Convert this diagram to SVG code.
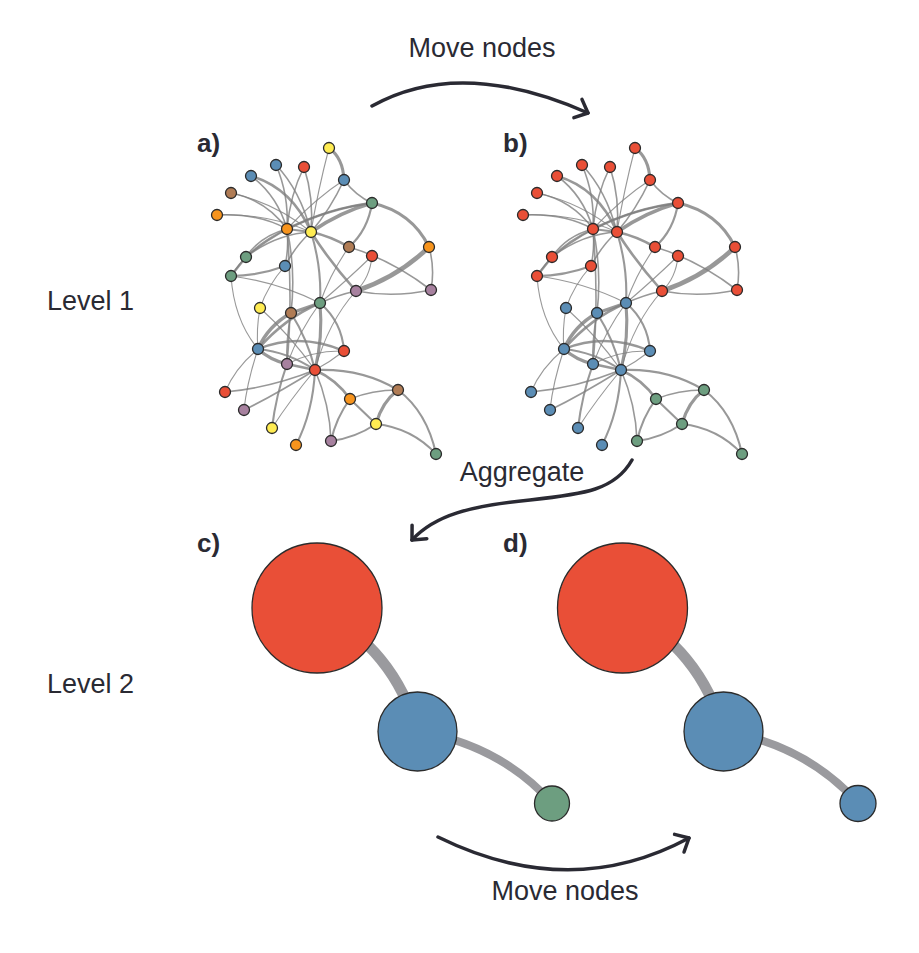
<svg xmlns="http://www.w3.org/2000/svg" xmlns:xlink="http://www.w3.org/1999/xlink" width="919" height="953" viewBox="0 0 919 953">
<style>
.lbl{font-family:"Liberation Sans",Arial,sans-serif;font-size:27px;fill:#2a2a33}
.pl{font-family:"Liberation Sans",Arial,sans-serif;font-size:26px;font-weight:bold;fill:#2a2a33}
.e{fill:none;stroke:#7e7e7e;stroke-opacity:0.8;stroke-linecap:round}
.w1{stroke-width:1.1}.w15{stroke-width:1.6}.w2{stroke-width:2.1}.w25{stroke-width:2.6}.w3{stroke-width:3.1}.w35{stroke-width:3.6}.w45{stroke-width:4.6}
.n circle{stroke:#2b2b2b;stroke-width:1.3}
.R{fill:#E94F37}.B{fill:#5B8DB5}.G{fill:#6D9E80}.O{fill:#F7941D}.Y{fill:#FFEC52}.Br{fill:#B07C55}.P{fill:#A7819F}
.arr{fill:none;stroke:#2a2a33;stroke-width:3.5;stroke-linecap:round;stroke-linejoin:round}
.big{fill:none;stroke:#9a9a9e;stroke-linecap:butt}
</style>
<defs>
<marker id="chev" markerUnits="userSpaceOnUse" markerWidth="30" markerHeight="30" viewBox="-15 -15 30 30" refX="0" refY="0" orient="auto">
<path d="M-11,-10 L0,0 L-11,10" fill="none" stroke="#2a2a33" stroke-width="3.5" stroke-linecap="round" stroke-linejoin="round"/>
</marker>
</defs>
<rect width="919" height="953" fill="#ffffff"/>

<text class="lbl" x="482" y="57" text-anchor="middle">Move nodes</text>
<text class="lbl" x="47" y="310">Level 1</text>
<text class="lbl" x="47" y="693">Level 2</text>
<text class="lbl" x="522" y="481" text-anchor="middle">Aggregate</text>
<text class="lbl" x="565" y="900" text-anchor="middle">Move nodes</text>
<text class="pl" x="197" y="152">a)</text>
<text class="pl" x="503" y="152">b)</text>
<text class="pl" x="197" y="552">c)</text>
<text class="pl" x="503" y="552">d)</text>

<g id="connectors">
<g id="edges-a">
<path class="e w1" d="M329,148 Q318,190 311,232"/>
<path class="e w3" d="M329,148 Q343,158 344,180"/>
<path class="e w15" d="M276,165 Q289,195 287,229"/>
<path class="e w15" d="M276,165 Q300,190 311,232"/>
<path class="e w15" d="M304,167 Q290,195 287,229"/>
<path class="e w15" d="M304,167 Q314,198 311,232"/>
<path class="e w15" d="M251,176 Q277,195 287,229"/>
<path class="e w25" d="M251,176 Q292,188 311,232"/>
<path class="e w15" d="M231,193 Q266,200 287,229"/>
<path class="e w1" d="M231,193 Q276,203 311,232"/>
<path class="e w15" d="M217,215 Q258,213 287,229"/>
<path class="e w1" d="M217,215 Q268,213 311,232"/>
<path class="e w1" d="M344,180 Q316,198 287,229"/>
<path class="e w15" d="M344,180 Q330,210 311,232"/>
<path class="e w15" d="M344,180 Q356,196 372,203"/>
<path class="e w35" d="M372,203 Q340,212 311,232"/>
<path class="e w25" d="M372,203 Q330,208 287,229"/>
<path class="e w3" d="M372,203 Q412,212 429,247"/>
<path class="e w2" d="M372,203 Q368,230 349,247"/>
<path class="e w45" d="M429,247 Q398,277 356,291"/>
<path class="e w15" d="M429,247 Q435,268 431,290"/>
<path class="e w15" d="M356,291 Q393,298 431,290"/>
<path class="e w25" d="M311,232 Q330,262 356,291"/>
<path class="e w25" d="M311,232 Q330,236 349,247"/>
<path class="e w15" d="M349,247 Q392,260 431,290"/>
<path class="e w1" d="M349,247 Q331,272 320,303"/>
<path class="e w1" d="M372,256 Q345,282 320,303"/>
<path class="e w1" d="M372,256 Q370,278 356,291"/>
<path class="e w15" d="M356,291 Q338,295 320,303"/>
<path class="e w1" d="M356,291 Q328,322 315,370"/>
<path class="e w15" d="M246,257 Q260,236 287,229"/>
<path class="e w15" d="M246,257 Q276,234 311,232"/>
<path class="e w15" d="M246,257 Q300,212 372,203"/>
<path class="e w15" d="M231,276 Q250,246 287,229"/>
<path class="e w2" d="M231,276 L246,257"/>
<path class="e w2" d="M231,276 Q258,276 285,266"/>
<path class="e w1" d="M231,276 Q234,320 258,349"/>
<path class="e w1" d="M231,276 Q278,282 320,303"/>
<path class="e w15" d="M285,266 Q289,248 287,229"/>
<path class="e w15" d="M285,266 Q296,245 311,232"/>
<path class="e w1" d="M285,266 Q268,285 260,308"/>
<path class="e w2" d="M311,232 Q322,268 320,303"/>
<path class="e w15" d="M287,229 Q296,270 291,313"/>
<path class="e w2" d="M287,229 L311,232"/>
<path class="e w3" d="M320,303 L291,313"/>
<path class="e w25" d="M320,303 Q285,318 258,349"/>
<path class="e w3" d="M320,303 Q323,337 315,370"/>
<path class="e w2" d="M320,303 Q342,322 344,351"/>
<path class="e w1" d="M320,303 Q300,330 287,364"/>
<path class="e w1" d="M260,308 Q256,330 258,349"/>
<path class="e w1" d="M260,308 Q290,335 315,370"/>
<path class="e w35" d="M291,313 Q268,326 258,349"/>
<path class="e w15" d="M291,313 Q286,340 287,364"/>
<path class="e w2" d="M291,313 Q308,340 315,370"/>
<path class="e w25" d="M258,349 Q300,332 344,351"/>
<path class="e w3" d="M258,349 Q270,360 287,364"/>
<path class="e w2" d="M258,349 Q288,352 315,370"/>
<path class="e w1" d="M258,349 Q235,368 225,392"/>
<path class="e w1" d="M258,349 Q247,382 244,410"/>
<path class="e w1" d="M344,351 Q330,362 315,370"/>
<path class="e w1" d="M344,351 Q314,350 287,364"/>
<path class="e w25" d="M287,364 L315,370"/>
<path class="e w2" d="M287,364 Q276,395 272,428"/>
<path class="e w15" d="M315,370 Q270,388 225,392"/>
<path class="e w15" d="M315,370 Q275,395 244,410"/>
<path class="e w1" d="M315,370 Q290,400 272,428"/>
<path class="e w2" d="M315,370 Q313,412 296,445"/>
<path class="e w15" d="M315,370 Q330,405 331,441"/>
<path class="e w25" d="M315,370 Q337,380 350,399"/>
<path class="e w2" d="M315,370 Q362,368 398,390"/>
<path class="e w15" d="M398,390 Q372,390 350,399"/>
<path class="e w3" d="M398,390 Q382,402 376,424"/>
<path class="e w2" d="M398,390 Q427,412 436,454"/>
<path class="e w2" d="M350,399 L376,424"/>
<path class="e w2" d="M350,399 Q336,418 331,441"/>
<path class="e w2" d="M376,424 Q355,438 331,441"/>
<path class="e w2" d="M376,424 Q412,428 436,454"/>
<path class="e w15" d="M287,229 Q293,300 287,364"/>
</g>
<use xlink:href="#edges-a" href="#edges-a" transform="translate(306,0)"/>
<path class="big" stroke-width="11" d="M317,608 Q395,650 417,731"/>
<path class="big" stroke-width="8" d="M417,731 Q500,745 552,803"/>
<path class="big" stroke-width="11" d="M623,608 Q701,650 723,731"/>
<path class="big" stroke-width="8" d="M723,731 Q806,745 858,803"/>
<path class="arr" d="M372,106 Q460,56.5 588,113" marker-end="url(#chev)"/>
<path class="arr" d="M632,460 C615,490 585,494 530,500 C470,506 435,515 412,540" marker-end="url(#chev)"/>
<path class="arr" d="M438,837 Q570,902 689,838" marker-end="url(#chev)"/>
</g>

<g id="nodes-a" class="n">
<g id="a0"><circle cx="329" cy="148" r="5.5" class="Y"/></g>
<g id="a1"><circle cx="276" cy="165" r="5.5" class="B"/></g>
<g id="a2"><circle cx="304" cy="167" r="5.5" class="R"/></g>
<g id="a3"><circle cx="251" cy="176" r="5.5" class="B"/></g>
<g id="a4"><circle cx="344" cy="180" r="5.5" class="B"/></g>
<g id="a5"><circle cx="231" cy="193" r="5.5" class="Br"/></g>
<g id="a6"><circle cx="372" cy="203" r="5.5" class="G"/></g>
<g id="a7"><circle cx="217" cy="215" r="5.5" class="O"/></g>
<g id="a8"><circle cx="287" cy="229" r="5.5" class="O"/></g>
<g id="a9"><circle cx="311" cy="232" r="5.5" class="Y"/></g>
<g id="a10"><circle cx="349" cy="247" r="5.5" class="Br"/></g>
<g id="a11"><circle cx="429" cy="247" r="5.5" class="O"/></g>
<g id="a12"><circle cx="372" cy="256" r="5.5" class="R"/></g>
<g id="a13"><circle cx="246" cy="257" r="5.5" class="G"/></g>
<g id="a14"><circle cx="285" cy="266" r="5.5" class="B"/></g>
<g id="a15"><circle cx="231" cy="276" r="5.5" class="G"/></g>
<g id="a16"><circle cx="356" cy="291" r="5.5" class="P"/></g>
<g id="a17"><circle cx="431" cy="290" r="5.5" class="P"/></g>
<g id="a18"><circle cx="320" cy="303" r="5.5" class="G"/></g>
<g id="a19"><circle cx="260" cy="308" r="5.5" class="Y"/></g>
<g id="a20"><circle cx="291" cy="313" r="5.5" class="Br"/></g>
<g id="a21"><circle cx="258" cy="349" r="5.5" class="B"/></g>
<g id="a22"><circle cx="344" cy="351" r="5.5" class="R"/></g>
<g id="a23"><circle cx="287" cy="364" r="5.5" class="P"/></g>
<g id="a24"><circle cx="315" cy="370" r="5.5" class="R"/></g>
<g id="a25"><circle cx="225" cy="392" r="5.5" class="R"/></g>
<g id="a26"><circle cx="398" cy="390" r="5.5" class="Br"/></g>
<g id="a27"><circle cx="350" cy="399" r="5.5" class="O"/></g>
<g id="a28"><circle cx="244" cy="410" r="5.5" class="P"/></g>
<g id="a29"><circle cx="376" cy="424" r="5.5" class="Y"/></g>
<g id="a30"><circle cx="272" cy="428" r="5.5" class="Y"/></g>
<g id="a31"><circle cx="296" cy="445" r="5.5" class="O"/></g>
<g id="a32"><circle cx="331" cy="441" r="5.5" class="P"/></g>
<g id="a33"><circle cx="436" cy="454" r="5.5" class="G"/></g>
</g>

<g id="nodes-b" class="n">
<g id="b0"><circle cx="635" cy="148" r="5.5" class="R"/></g>
<g id="b1"><circle cx="582" cy="165" r="5.5" class="R"/></g>
<g id="b2"><circle cx="610" cy="167" r="5.5" class="R"/></g>
<g id="b3"><circle cx="557" cy="176" r="5.5" class="R"/></g>
<g id="b4"><circle cx="650" cy="180" r="5.5" class="R"/></g>
<g id="b5"><circle cx="537" cy="193" r="5.5" class="R"/></g>
<g id="b6"><circle cx="678" cy="203" r="5.5" class="R"/></g>
<g id="b7"><circle cx="523" cy="215" r="5.5" class="R"/></g>
<g id="b8"><circle cx="593" cy="229" r="5.5" class="R"/></g>
<g id="b9"><circle cx="617" cy="232" r="5.5" class="R"/></g>
<g id="b10"><circle cx="655" cy="247" r="5.5" class="R"/></g>
<g id="b11"><circle cx="735" cy="247" r="5.5" class="R"/></g>
<g id="b12"><circle cx="678" cy="256" r="5.5" class="R"/></g>
<g id="b13"><circle cx="552" cy="257" r="5.5" class="R"/></g>
<g id="b14"><circle cx="591" cy="266" r="5.5" class="R"/></g>
<g id="b15"><circle cx="537" cy="276" r="5.5" class="R"/></g>
<g id="b16"><circle cx="662" cy="291" r="5.5" class="R"/></g>
<g id="b17"><circle cx="737" cy="290" r="5.5" class="R"/></g>
<g id="b18"><circle cx="626" cy="303" r="5.5" class="B"/></g>
<g id="b19"><circle cx="566" cy="308" r="5.5" class="B"/></g>
<g id="b20"><circle cx="597" cy="313" r="5.5" class="B"/></g>
<g id="b21"><circle cx="564" cy="349" r="5.5" class="B"/></g>
<g id="b22"><circle cx="650" cy="351" r="5.5" class="B"/></g>
<g id="b23"><circle cx="593" cy="364" r="5.5" class="B"/></g>
<g id="b24"><circle cx="621" cy="370" r="5.5" class="B"/></g>
<g id="b25"><circle cx="531" cy="392" r="5.5" class="B"/></g>
<g id="b26"><circle cx="704" cy="390" r="5.5" class="G"/></g>
<g id="b27"><circle cx="656" cy="399" r="5.5" class="G"/></g>
<g id="b28"><circle cx="550" cy="410" r="5.5" class="B"/></g>
<g id="b29"><circle cx="682" cy="424" r="5.5" class="G"/></g>
<g id="b30"><circle cx="578" cy="428" r="5.5" class="B"/></g>
<g id="b31"><circle cx="602" cy="445" r="5.5" class="B"/></g>
<g id="b32"><circle cx="637" cy="441" r="5.5" class="G"/></g>
<g id="b33"><circle cx="742" cy="454" r="5.5" class="G"/></g>
</g>

<g id="nodes-c" class="n">
<g id="c-red"><circle cx="317" cy="608" r="65" class="R"/></g>
<g id="c-blue"><circle cx="417.5" cy="731.5" r="39.5" class="B"/></g>
<g id="c-green"><circle cx="552" cy="803.5" r="17.5" class="G"/></g>
</g>
<g id="nodes-d" class="n">
<g id="d-red"><circle cx="622.5" cy="608" r="65" class="R"/></g>
<g id="d-blue"><circle cx="723.5" cy="731.5" r="39.5" class="B"/></g>
<g id="d-blue-small"><circle cx="858" cy="803.5" r="18" class="B"/></g>
</g>
</svg>
